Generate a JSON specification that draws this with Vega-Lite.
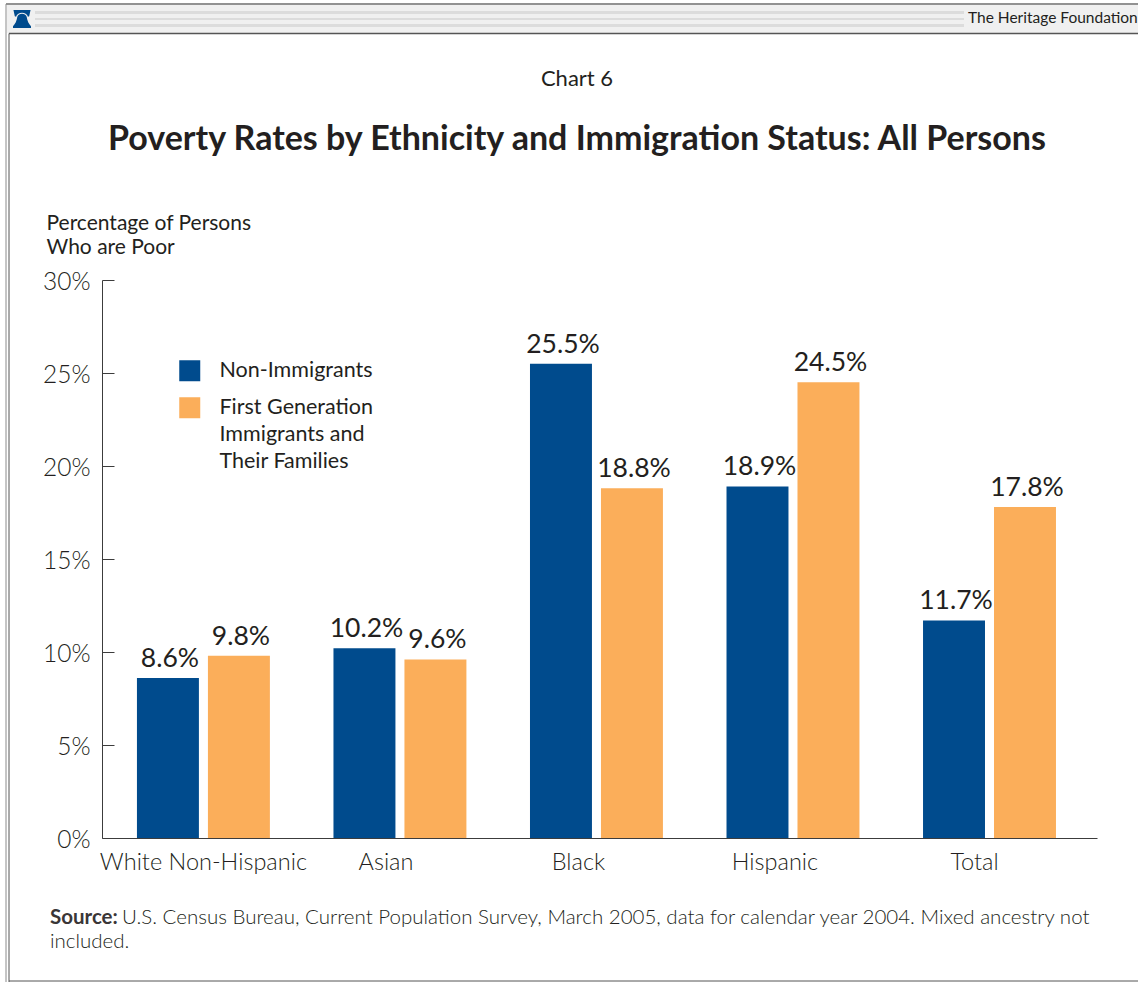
{
  "$schema": "https://vega.github.io/schema/vega-lite/v6.json",
  "autosize": "none",
  "padding": {"left": 102, "top": 280, "right": 41, "bottom": 144},
  "width": 995,
  "height": 558,
  "background": "white",
  "config": {"view": {"stroke": null}, "font": "Lato"},
  "title": {
    "text": "Chart 6",
    "subtitle": "Poverty Rates by Ethnicity and Immigration Status: All Persons",
    "anchor": "start",
    "frame": "group",
    "dx": 475,
    "offset": -155,
    "align": "center",
    "font": "Lato",
    "fontSize": 22,
    "fontWeight": 400,
    "color": "#231f20",
    "subtitleFont": "Lato",
    "subtitleFontSize": 34,
    "subtitleFontWeight": 700,
    "subtitleColor": "#231f20",
    "subtitlePadding": 32
  },
  "datasets": {
    "rates": [
      {"group": "White Non-Hispanic", "status": "Non-Immigrants", "rate": 8.6, "label": "8.6%"},
      {"group": "White Non-Hispanic", "status": "First Generation Immigrants and Their Families", "rate": 9.8, "label": "9.8%"},
      {"group": "Asian", "status": "Non-Immigrants", "rate": 10.2, "label": "10.2%"},
      {"group": "Asian", "status": "First Generation Immigrants and Their Families", "rate": 9.6, "label": "9.6%"},
      {"group": "Black", "status": "Non-Immigrants", "rate": 25.5, "label": "25.5%"},
      {"group": "Black", "status": "First Generation Immigrants and Their Families", "rate": 18.8, "label": "18.8%"},
      {"group": "Hispanic", "status": "Non-Immigrants", "rate": 18.9, "label": "18.9%"},
      {"group": "Hispanic", "status": "First Generation Immigrants and Their Families", "rate": 24.5, "label": "24.5%"},
      {"group": "Total", "status": "Non-Immigrants", "rate": 11.7, "label": "11.7%"},
      {"group": "Total", "status": "First Generation Immigrants and Their Families", "rate": 17.8, "label": "17.8%"}
    ]
  },
  "layer": [
    {
      "description": "Masthead band across the top of the page",
      "data": {"values": [{"part": "masthead"}]},
      "mark": {"type": "rect", "fill": "#f0f0f0", "stroke": null, "clip": false},
      "encoding": {"x": {"value": -95}, "x2": {"value": 1036}, "y": {"value": -275}, "y2": {"value": -247}}
    },
    {
      "description": "Three pale stripes inside the masthead",
      "data": {"values": [{"part": "stripe"}]},
      "layer": [
        {"mark": {"type": "rect", "fill": "#dcdcdc"}, "encoding": {"x": {"value": -67}, "x2": {"value": 862}, "y": {"value": -269}, "y2": {"value": -266}}},
        {"mark": {"type": "rect", "fill": "#dcdcdc"}, "encoding": {"x": {"value": -67}, "x2": {"value": 862}, "y": {"value": -262}, "y2": {"value": -260}}},
        {"mark": {"type": "rect", "fill": "#dcdcdc"}, "encoding": {"x": {"value": -67}, "x2": {"value": 862}, "y": {"value": -256}, "y2": {"value": -253}}}
      ]
    },
    {
      "description": "Page frame lines",
      "data": {"values": [{"part": "frame"}]},
      "layer": [
        {"mark": {"type": "rule", "color": "#6e6e6e", "strokeWidth": 1.5}, "encoding": {"x": {"value": -96}, "x2": {"value": 1036}, "y": {"value": -276}}},
        {"mark": {"type": "rule", "color": "#555555", "strokeWidth": 1.5}, "encoding": {"x": {"value": -93}, "x2": {"value": 1036}, "y": {"value": -246.5}}},
        {"mark": {"type": "rule", "color": "#555555", "strokeWidth": 1}, "encoding": {"x": {"value": -93}, "x2": {"value": 1036}, "y": {"value": 701}}},
        {"mark": {"type": "rule", "color": "#8a8a8a", "strokeWidth": 1}, "encoding": {"x": {"value": -96}, "y": {"value": -276}, "y2": {"value": 702}}},
        {"mark": {"type": "rule", "color": "#555555", "strokeWidth": 1}, "encoding": {"x": {"value": -93}, "y": {"value": -246.5}, "y2": {"value": 702}}}
      ]
    },
    {
      "description": "Liberty bell emblem",
      "data": {"values": [{"part": "bell"}]},
      "mark": {
        "type": "point",
        "filled": true,
        "fill": "#004b8d",
        "opacity": 1,
        "size": 324,
        "shape": "M-0.95 -1 H0.95 L0.8 -0.3 L0.66 -0.25 C0.5 -0.85 -0.5 -0.85 -0.66 -0.25 L-0.8 -0.3 Z M-0.52 -0.25 C-0.4 -0.68 0.4 -0.68 0.52 -0.25 C0.58 0.2 0.75 0.55 1 0.8 V1 H-1 V0.8 C-0.75 0.55 -0.58 0.2 -0.52 -0.25 Z"
      },
      "encoding": {"x": {"value": -80}, "y": {"value": -261}}
    },
    {
      "description": "Publisher name in the masthead",
      "data": {"values": [{"name": "The Heritage Foundation"}]},
      "mark": {"type": "text", "align": "left", "baseline": "alphabetic", "font": "Lato", "fontSize": 15.5, "color": "#231f20"},
      "encoding": {"text": {"field": "name"}, "x": {"value": 866}, "y": {"value": -257}}
    },
    {
      "description": "Source note under the chart",
      "data": {"values": [{"part": "source"}]},
      "layer": [
        {
          "mark": {"type": "text", "align": "left", "baseline": "alphabetic", "font": "Lato", "fontSize": 20.5, "fontWeight": 700, "color": "#3a3637", "text": "Source:"},
          "encoding": {"x": {"value": -52}, "y": {"value": 644}}
        },
        {
          "mark": {"type": "text", "align": "left", "baseline": "alphabetic", "font": "Lato", "fontSize": 20.5, "fontWeight": 300, "color": "#231f20", "text": "U.S. Census Bureau, Current Population Survey, March 2005, data for calendar year 2004. Mixed ancestry not"},
          "encoding": {"x": {"value": 20}, "y": {"value": 644}}
        },
        {
          "mark": {"type": "text", "align": "left", "baseline": "alphabetic", "font": "Lato", "fontSize": 20.5, "fontWeight": 300, "color": "#231f20", "text": "included."},
          "encoding": {"x": {"value": -52}, "y": {"value": 668}}
        }
      ]
    },
    {
      "data": {"name": "rates"},
      "encoding": {
        "x": {
          "field": "group",
          "type": "nominal",
          "sort": null,
          "scale": {"paddingInner": 0.3235, "paddingOuter": 0.1933, "align": 0.46},
          "axis": {
            "title": null,
            "labelAngle": 0,
            "ticks": false,
            "domainColor": "#3c3c3c",
            "domainWidth": 1,
            "labelFont": "Lato",
            "labelFontWeight": 300,
            "labelFontSize": 23.5,
            "labelColor": "#231f20",
            "labelPadding": 12,
            "labelLimit": 400,
            "labelOffset": {"expr": "datum.value === 'Asian' ? -14 : datum.value === 'Black' ? -18 : datum.value === 'Hispanic' ? -18 : datum.value === 'Total' ? -15 : 0"}
          }
        },
        "xOffset": {
          "field": "status",
          "type": "nominal",
          "sort": null,
          "scale": {"paddingInner": 0.127, "paddingOuter": 0}
        },
        "y": {
          "field": "rate",
          "type": "quantitative",
          "scale": {"domain": [0, 30], "nice": false},
          "axis": {
            "title": ["Percentage of Persons", "Who are Poor"],
            "titleAngle": 0,
            "titleAlign": "left",
            "titleBaseline": "alphabetic",
            "titleX": -56,
            "titleY": -51,
            "titleFont": "Lato",
            "titleFontWeight": 400,
            "titleFontSize": 21,
            "titleLineHeight": 24,
            "titleColor": "#231f20",
            "values": [0, 5, 10, 15, 20, 25, 30],
            "labelExpr": "datum.value + '%'",
            "labelFont": "Lato",
            "labelFontWeight": 300,
            "labelFontSize": 24.5,
            "labelColor": "#231f20",
            "labelPadding": 24,
            "labelOffset": 2,
            "tickSize": -12,
            "tickColor": "#3c3c3c",
            "domainColor": "#3c3c3c",
            "grid": false
          }
        }
      },
      "layer": [
        {
          "mark": {"type": "bar"},
          "encoding": {
            "color": {
              "field": "status",
              "type": "nominal",
              "sort": null,
              "scale": {"range": ["#004b8d", "#fbae5a"]},
              "legend": {
                "title": null,
                "orient": "none",
                "legendX": 77,
                "legendY": 80,
                "symbolType": "square",
                "symbolSize": 441,
                "symbolStrokeWidth": 0,
                "symbolOpacity": 1,
                "labelFont": "Lato",
                "labelFontSize": 21.5,
                "labelColor": "#231f20",
                "labelOffset": 19,
                "labelLimit": 300,
                "rowPadding": 14,
                "labelExpr": "datum.label === 'Non-Immigrants' ? datum.label : ['First Generation', 'Immigrants and', 'Their Families']",
                "encoding": {"labels": {"lineHeight": {"value": 27}}}
              }
            }
          }
        },
        {
          "mark": {"type": "text", "baseline": "alphabetic", "dy": -11, "dx": 2, "font": "Lato", "fontSize": 26.5, "fontWeight": 400, "color": "#231f20"},
          "encoding": {
            "text": {"field": "label", "type": "nominal"}
          }
        }
      ]
    }
  ]
}
